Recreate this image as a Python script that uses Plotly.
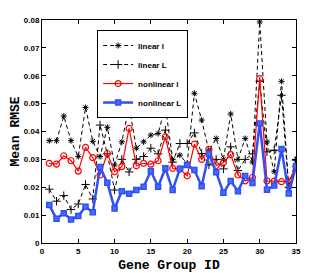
import plotly.graph_objects as go

gene_ids = list(range(1, 36))

linear_l = [0.0367, 0.0367, 0.0455, 0.0367, 0.0310, 0.0486, 0.0365, 0.0310, 0.0415, 0.0280,
            0.0363, 0.0491, 0.0340, 0.0363, 0.0387, 0.0393, 0.0490, 0.0300, 0.0315, 0.0285,
            0.0537, 0.0441, 0.0330, 0.0375, 0.0300, 0.0463, 0.0300, 0.0375, 0.0290, 0.0793,
            0.0363, 0.0256, 0.0580, 0.0197, 0.0300]

linear_L = [0.0193, 0.0150, 0.0170, 0.0120, 0.0140, 0.0210, 0.0158, 0.0423, 0.0320, 0.0190,
            0.0300, 0.0255, 0.0300, 0.0310, 0.0340, 0.0320, 0.0405, 0.0290, 0.0357, 0.0357,
            0.0395, 0.0321, 0.0280, 0.0300, 0.0266, 0.0345, 0.0260, 0.0300, 0.0320, 0.0580,
            0.0327, 0.0333, 0.0530, 0.0200, 0.0297]

nonlinear_l = [0.0286, 0.0283, 0.0313, 0.0295, 0.0258, 0.0343, 0.0306, 0.0244, 0.0321, 0.0256,
               0.0274, 0.0411, 0.0277, 0.0286, 0.0283, 0.0295, 0.0381, 0.0268, 0.0265, 0.0241,
               0.0355, 0.0300, 0.0336, 0.0278, 0.0289, 0.0317, 0.0244, 0.0223, 0.0235, 0.0590,
               0.0223, 0.0222, 0.0220, 0.0220, 0.0275]

nonlinear_L = [0.0136, 0.0087, 0.0107, 0.0084, 0.0097, 0.0130, 0.0110, 0.0273, 0.0216, 0.0124,
               0.0186, 0.0177, 0.0190, 0.0202, 0.0258, 0.0202, 0.0268, 0.0190, 0.0266, 0.0280,
               0.0262, 0.0204, 0.0319, 0.0254, 0.0180, 0.0222, 0.0186, 0.0240, 0.0215, 0.0429,
               0.0191, 0.0206, 0.0337, 0.0178, 0.0275]

x_ticks = [0, 5, 10, 15, 20, 25, 30, 35]
y_ticks = [0, 0.01, 0.02, 0.03, 0.04, 0.05, 0.06, 0.07, 0.08]
y_tick_labels = ["0", "0.01", "0.02", "0.03", "0.04", "0.05", "0.06", "0.07", "0.08"]

fig = go.Figure()
fig.add_trace(go.Scatter(x=gene_ids, y=linear_l, name="linear l", mode="lines+markers",
                         line=dict(color="black", width=1, dash="4px,3px"),
                         marker=dict(symbol="asterisk-open", size=5, color="black",
                                     line=dict(color="black", width=1))))
fig.add_trace(go.Scatter(x=gene_ids, y=linear_L, name="linear L", mode="lines+markers",
                         line=dict(color="black", width=1, dash="4px,3px"),
                         marker=dict(symbol="cross-thin-open", size=6, color="black",
                                     line=dict(color="black", width=1))))
fig.add_trace(go.Scatter(x=gene_ids, y=nonlinear_l, name="nonlinear l", mode="lines+markers",
                         line=dict(color="#ff0000", width=1.2),
                         marker=dict(symbol="circle-open", size=6, color="#ff0000",
                                     line=dict(color="#ff0000", width=1.2))))
fig.add_trace(go.Scatter(x=gene_ids, y=nonlinear_L, name="nonlinear L", mode="lines+markers",
                         line=dict(color="#2e50f5", width=2.5),
                         marker=dict(symbol="square", size=5, color="#4a6aff",
                                     line=dict(color="#2e50f5", width=1.5))))

tick_font = dict(family="Liberation Sans, Arial, sans-serif", size=8, color="black", weight="bold")
title_font = dict(family="Liberation Mono, Courier New, monospace", size=13, color="black", weight="bold")

# the page body adds an 8px margin, so the figure is sized to fit the remaining window
fig.update_layout(
    width=319, height=265,
    margin=dict(l=34, r=31, t=12, b=30),
    paper_bgcolor="white", plot_bgcolor="white",
    showlegend=True,
    legend=dict(x=0.217, y=0.955, xanchor="left", yanchor="top",
                bgcolor="white", bordercolor="black", borderwidth=1,
                font=dict(family="Liberation Sans, Arial, sans-serif", size=8, color="black", weight="bold"),
                itemwidth=30, tracegroupgap=0),
    xaxis=dict(range=[0, 35], tickvals=x_ticks, ticks="inside", ticklen=4, tickcolor="black",
               showline=True, linecolor="black", linewidth=1, mirror="ticks",
               showgrid=False, zeroline=False, tickfont=tick_font, automargin=False,
               title=dict(text="Gene Group ID", font=title_font)),
    yaxis=dict(range=[0, 0.08], tickvals=y_ticks, ticktext=y_tick_labels, ticks="inside",
               ticklen=4, tickcolor="black",
               showline=True, linecolor="black", linewidth=1, mirror="ticks",
               showgrid=False, zeroline=False, tickfont=tick_font, automargin=False,
               title=dict(text="Mean RMSE", font=title_font)),
)

fig.write_html("out.html")
